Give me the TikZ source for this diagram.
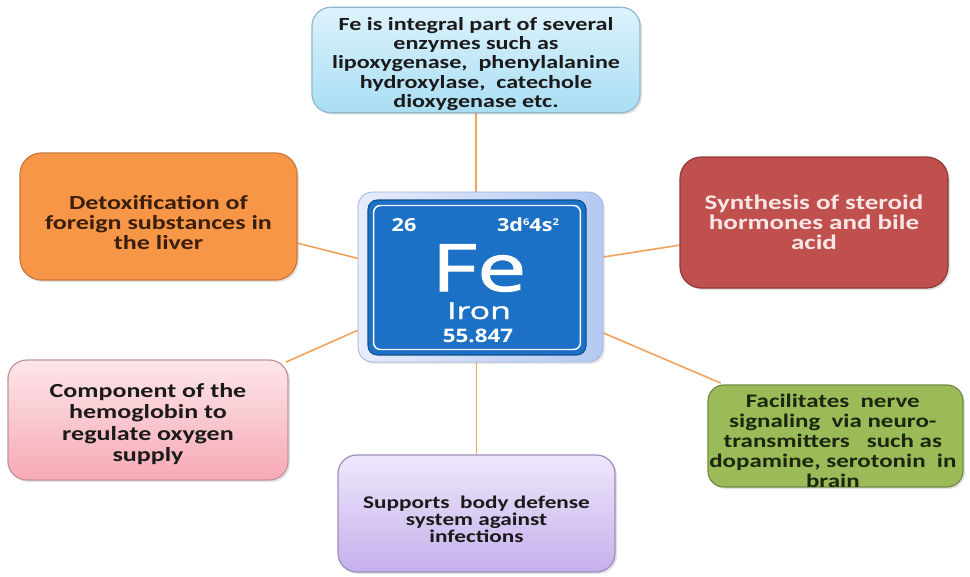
\documentclass[tikz,border=0pt]{standalone}
\usepackage{fontspec}
\setmainfont{Carlito}
\newfontfamily\boxfont[FakeStretch=1.3]{Carlito}
\newfontfamily\elemfont[FakeStretch=1.2]{Open Sans}
\newfontfamily\elemsym[FakeStretch=1.35,FakeBold=1.6]{Open Sans}
\newfontfamily\elemname[FakeStretch=1.45,FakeBold=1.8]{Open Sans}
\usetikzlibrary{shadows,backgrounds,calc}

\definecolor{linkorange}{HTML}{F0A35A}
\definecolor{skyTop}{HTML}{DDF3FC}
\definecolor{skyBot}{HTML}{A9DEF3}
\definecolor{skyEdge}{HTML}{8DB8CC}
\definecolor{orangeFill}{HTML}{F79646}
\definecolor{orangeEdge}{HTML}{C9773A}
\definecolor{orangeText}{HTML}{3A1E0C}
\definecolor{redFill}{HTML}{C0504D}
\definecolor{redEdge}{HTML}{8E3A37}
\definecolor{redText}{HTML}{F8E6E6}
\definecolor{pinkTop}{HTML}{FDE6EA}
\definecolor{pinkBot}{HTML}{F6A9B5}
\definecolor{pinkEdge}{HTML}{C4939A}
\definecolor{greenFill}{HTML}{9BBB59}
\definecolor{greenEdge}{HTML}{71893F}
\definecolor{greenText}{HTML}{1C260E}
\definecolor{lilacTop}{HTML}{EEE7FB}
\definecolor{lilacBot}{HTML}{C6B0EC}
\definecolor{lilacEdge}{HTML}{9C8EBB}
\definecolor{frameLeft}{HTML}{E6ECFB}
\definecolor{frameRight}{HTML}{B4C9F2}
\definecolor{frameEdge}{HTML}{9FB3DA}
\definecolor{ironBlue}{HTML}{1C71C6}
\definecolor{ironEdge}{HTML}{14518E}
\definecolor{darkText}{HTML}{1A1A1A}

\newcommand{\supnum}[1]{\raisebox{4.5pt}{\fontsize{7}{7}\selectfont #1}}

\begin{document}
\begin{tikzpicture}[x=0.75pt,y=-0.75pt,
  card/.style={draw, rounded corners=14pt, line width=0.9pt, inner sep=0pt,
    drop shadow={opacity=0.22, shadow xshift=1.5pt, shadow yshift=-1.5pt}},
  cardtext/.style={align=center, inner sep=0pt},
  link/.style={draw=linkorange, line width=1.2pt},
  elem/.style={text=white, inner sep=0pt, anchor=base, text depth=0pt}
]
\useasboundingbox (0,0) rectangle (970,576);

% centre tile: bevelled frame, blue face, inner white rule
\node[draw=frameEdge, line width=0.6pt, rounded corners=11pt,
      left color=frameLeft, right color=frameRight,
      minimum width=183.75pt, minimum height=127.5pt,
      drop shadow={opacity=0.18, shadow xshift=1.5pt, shadow yshift=-1.5pt}]
      (frame) at (480.5,277) {};
\node[draw=ironEdge, line width=0.8pt, fill=ironBlue, rounded corners=7pt,
      minimum width=163.5pt, minimum height=116.25pt] (tile) at (477,277.5) {};
\node[draw=white, line width=1.1pt, rounded corners=5pt,
      minimum width=155pt, minimum height=108pt] (rule) at (477,277.5) {};

\node[elem, font={\elemfont\bfseries\fontsize{13.5}{15}\selectfont}] (znum) at (404,231) {26};
\node[elem, font={\elemfont\bfseries\fontsize{13.5}{15}\selectfont}] (config) at (528,231)
  {3d\supnum{6}4s\supnum{2}};
\node[elem, font={\elemsym\fontsize{49}{55}\selectfont}] (symbol) at (479,291) {Fe};
\node[elem, font={\elemname\fontsize{17.5}{20}\selectfont}] (name) at (479,319) {Iron};
\node[elem, font={\elemfont\bfseries\fontsize{14}{16}\selectfont}] (mass) at (478,342) {55.847};

% surrounding role boxes
\node[card, draw=skyEdge, top color=skyTop, bottom color=skyBot,
      minimum width=246pt, minimum height=79pt] (enzymes) at (476,60) {};
\node[cardtext, text=darkText, font={\boxfont\bfseries\fontsize{13.9}{14.3}\selectfont}]
  (enzymes text) at ([yshift=-3pt]enzymes.center)
  {Fe is integral part of several\\enzymes such as\\lipoxygenase,\ \ phenylalanine\\hydroxylase,\ \ catechole\\dioxygenase etc.};

\node[card, draw=orangeEdge, fill=orangeFill, rounded corners=16pt,
      minimum width=207.75pt, minimum height=95.25pt] (detox) at (158.5,216.5) {};
\node[cardtext, text=orangeText, font={\boxfont\bfseries\fontsize{15}{15}\selectfont}]
  (detox text) at ([yshift=-4.5pt]detox.center)
  {Detoxification of\\foreign substances in\\the liver};

\node[card, draw=redEdge, fill=redFill, rounded corners=16pt,
      minimum width=201pt, minimum height=98.25pt] (steroid) at (814,222.5) {};
\node[cardtext, text=redText, font={\boxfont\bfseries\fontsize{15.6}{15}\selectfont}]
  (steroid text) at (steroid.center)
  {Synthesis of steroid\\hormones and bile\\acid};

\node[card, draw=pinkEdge, top color=pinkTop, bottom color=pinkBot,
      minimum width=210pt, minimum height=90pt] (hemo) at (148,420) {};
\node[cardtext, text=darkText, font={\boxfont\bfseries\fontsize{15}{16.1}\selectfont}]
  (hemo text) at ([yshift=-3pt]hemo.center)
  {Component of the\\hemoglobin to\\regulate oxygen\\supply};

\node[card, draw=greenEdge, fill=greenFill, rounded corners=12pt,
      minimum width=191.25pt, minimum height=76.5pt] (nerve) at (835.5,436) {};
\node[cardtext, text=greenText, font={\boxfont\bfseries\fontsize{14.4}{15}\selectfont}]
  (nerve text) at ([xshift=-2pt,yshift=-3.5pt]nerve.center)
  {Facilitates\ \ nerve\\signaling\ \ via neuro-\\transmitters\ \ \ such as\\dopamine,\ serotonin\ \ in\\brain};

\node[card, draw=lilacEdge, top color=lilacTop, bottom color=lilacBot,
      minimum width=207.75pt, minimum height=87.75pt] (defense) at (476.5,513.5) {};
\node[cardtext, text=darkText, font={\boxfont\bfseries\fontsize{13.4}{12.8}\selectfont}]
  (defense text) at ([yshift=-4.5pt]defense.center)
  {Supports\ \ body defense\\system against\\infections};

% white page and connectors, drawn underneath the boxes
\begin{pgfonlayer}{background}
  \fill[white] (0,0) rectangle (970,576);
  \draw[link] (enzymes.south) -- (enzymes.south |- frame.north);
  \draw[link] (defense.north) -- (defense.north |- frame.south);
  \draw[link] ([yshift=-20pt]detox.east) -- ([yshift=14pt]frame.west);
  \draw[link] ([yshift=15pt]frame.east) -- ([yshift=-17pt]steroid.west);
  \draw[link] ([xshift=-2pt,yshift=-2pt]hemo.north east) -- ([yshift=-40pt]frame.west);
  \draw[link] ([yshift=-42pt]frame.east) -- ([xshift=10pt,yshift=1pt]nerve.north west);
\end{pgfonlayer}
\end{tikzpicture}
\end{document}
